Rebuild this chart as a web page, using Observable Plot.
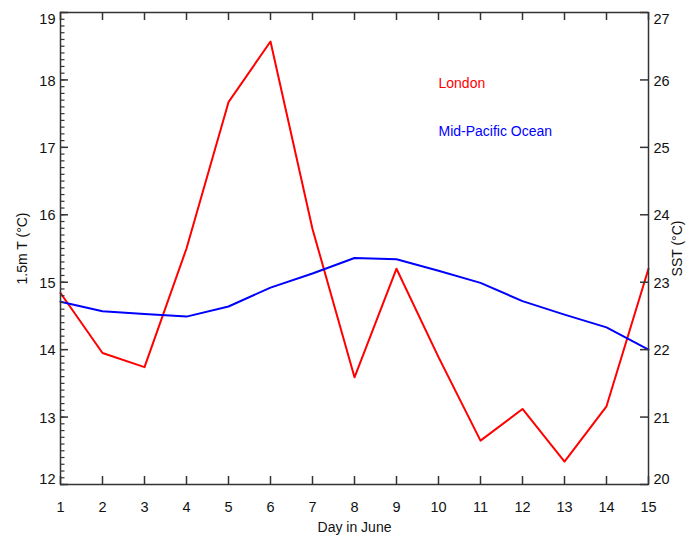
<!DOCTYPE html>
<html><head><meta charset="utf-8">
<script src="https://cdn.jsdelivr.net/npm/d3@7"></script>
<script src="https://cdn.jsdelivr.net/npm/@observablehq/plot@0.6"></script>
<style>body{margin:0;background:#fff} svg{font-family:"Liberation Sans",Arial,Helvetica,sans-serif}</style>
</head><body><div id="chart"></div>
<script>
const days = [1,2,3,4,5,6,7,8,9,10,11,12,13,14,15];
const london = [14.84,13.95,13.74,15.5,17.67,18.57,15.79,13.59,15.2,13.89,12.65,13.12,12.34,13.16,15.2];
const sst = [22.71,22.57,22.53,22.49,22.64,22.92,23.13,23.36,23.34,23.17,22.99,22.72,22.52,22.33,22.0];
const leftTicks = [12,13,14,15,16,17,18,19];
const leftMinorTicks = d3.range(120,191).map(d => d/10);
const rightTicks = [20,21,22,23,24,25,26,27];
const sstOffset = 8; // right axis = left axis + 8
const legendLabels = ["London","Mid-Pacific Ocean"];
const legendColors = ["#ff0000","#0000ff"];
const legendDay = [10,10];
const legendTemp = [17.95,17.24];

const rows = days.map((d,i) => ({day:d, london:london[i], sst:sst[i]}));
const legend = legendLabels.map((t,i) => ({text:t, color:legendColors[i], day:legendDay[i], temp:legendTemp[i]}));
const axisColor = "#333";

const W = 699, H = 538, mL = 60, mR = 51, mT = 12, mB = 54;
const fw = W - mL - mR, fh = H - mT - mB;
const major = 8, minor = 4.5;

const yLo = leftTicks[0], yHi = leftTicks[leftTicks.length - 1];
const leftMid = leftTicks.filter(t => t !== yLo && t !== yHi);
const rightPos = rightTicks.map(t => t - sstOffset);
const rightMid = rightPos.filter(t => t !== yLo && t !== yHi);

function yText(anchor, ticks, dy, fmt) {
  return Plot.axisY({anchor, ticks, tickSize: 0, tickPadding: 5, tickFormat: fmt, label: null, dy, fontSize: 14.5});
}

const chart = Plot.plot({
  width: W, height: H,
  marginLeft: mL, marginRight: mR, marginTop: mT, marginBottom: mB,
  style: {fontSize: "14px", fontFamily: "'Liberation Sans', Arial, sans-serif", color: "#111", background: "#fff"},
  x: {domain: [1,15]},
  y: {domain: [12,19]},
  marks: [
    Plot.line(rows, {x: "day", y: "london", stroke: "#ff0000", strokeWidth: 2}),
    Plot.line(rows, {x: "day", y: r => r.sst - sstOffset, stroke: "#0000ff", strokeWidth: 2}),
    // inward ticks
    Plot.tickX(days, {x: d => d, insetTop: fh - major, stroke: axisColor, strokeWidth: 1.5}),
    Plot.tickX(days, {x: d => d, insetBottom: fh - major, stroke: axisColor, strokeWidth: 1.5}),
    Plot.tickY(leftMinorTicks, {y: d => d, insetRight: fw - minor, stroke: axisColor, strokeWidth: 1.2}),
    Plot.tickY(leftTicks, {y: d => d, insetRight: fw - major, stroke: axisColor, strokeWidth: 1.5}),
    Plot.tickY(rightTicks, {y: d => d - sstOffset, insetLeft: fw - major, stroke: axisColor, strokeWidth: 1.5}),
    Plot.frame({stroke: axisColor, strokeWidth: 1.5}),
    Plot.axisX({anchor: "bottom", ticks: days, tickSize: 0, tickPadding: 17, tickFormat: d => d, label: null, fontSize: 14.5}),
    // left tick labels (end labels nudged inside the axis range)
    yText("left", leftMid, 1, d => d),
    yText("left", [yHi], 6.5, d => d),
    yText("left", [yLo], -5, d => d),
    // right tick labels
    yText("right", rightMid, 1, d => d + sstOffset),
    yText("right", [yHi], 6.5, d => d + sstOffset),
    yText("right", [yLo], -5, d => d + sstOffset),
    // axis titles
    Plot.axisY({anchor: "left", ticks: [], tickSize: 0, label: "1.5m T (°C)", labelAnchor: "center", labelOffset: 43, labelArrow: "none"}),
    Plot.axisY({anchor: "right", ticks: [], tickSize: 0, label: "SST (°C)", labelAnchor: "center", labelOffset: 33, labelArrow: "none"}),
    Plot.text(["Day in June"], {frameAnchor: "bottom", dy: 47, text: d => d, fill: "#111"}),
    Plot.text(legend, {x: "day", y: "temp", text: "text", fill: "color", textAnchor: "start"})
  ]
});
document.getElementById("chart").appendChild(chart);
</script>
</body></html>
